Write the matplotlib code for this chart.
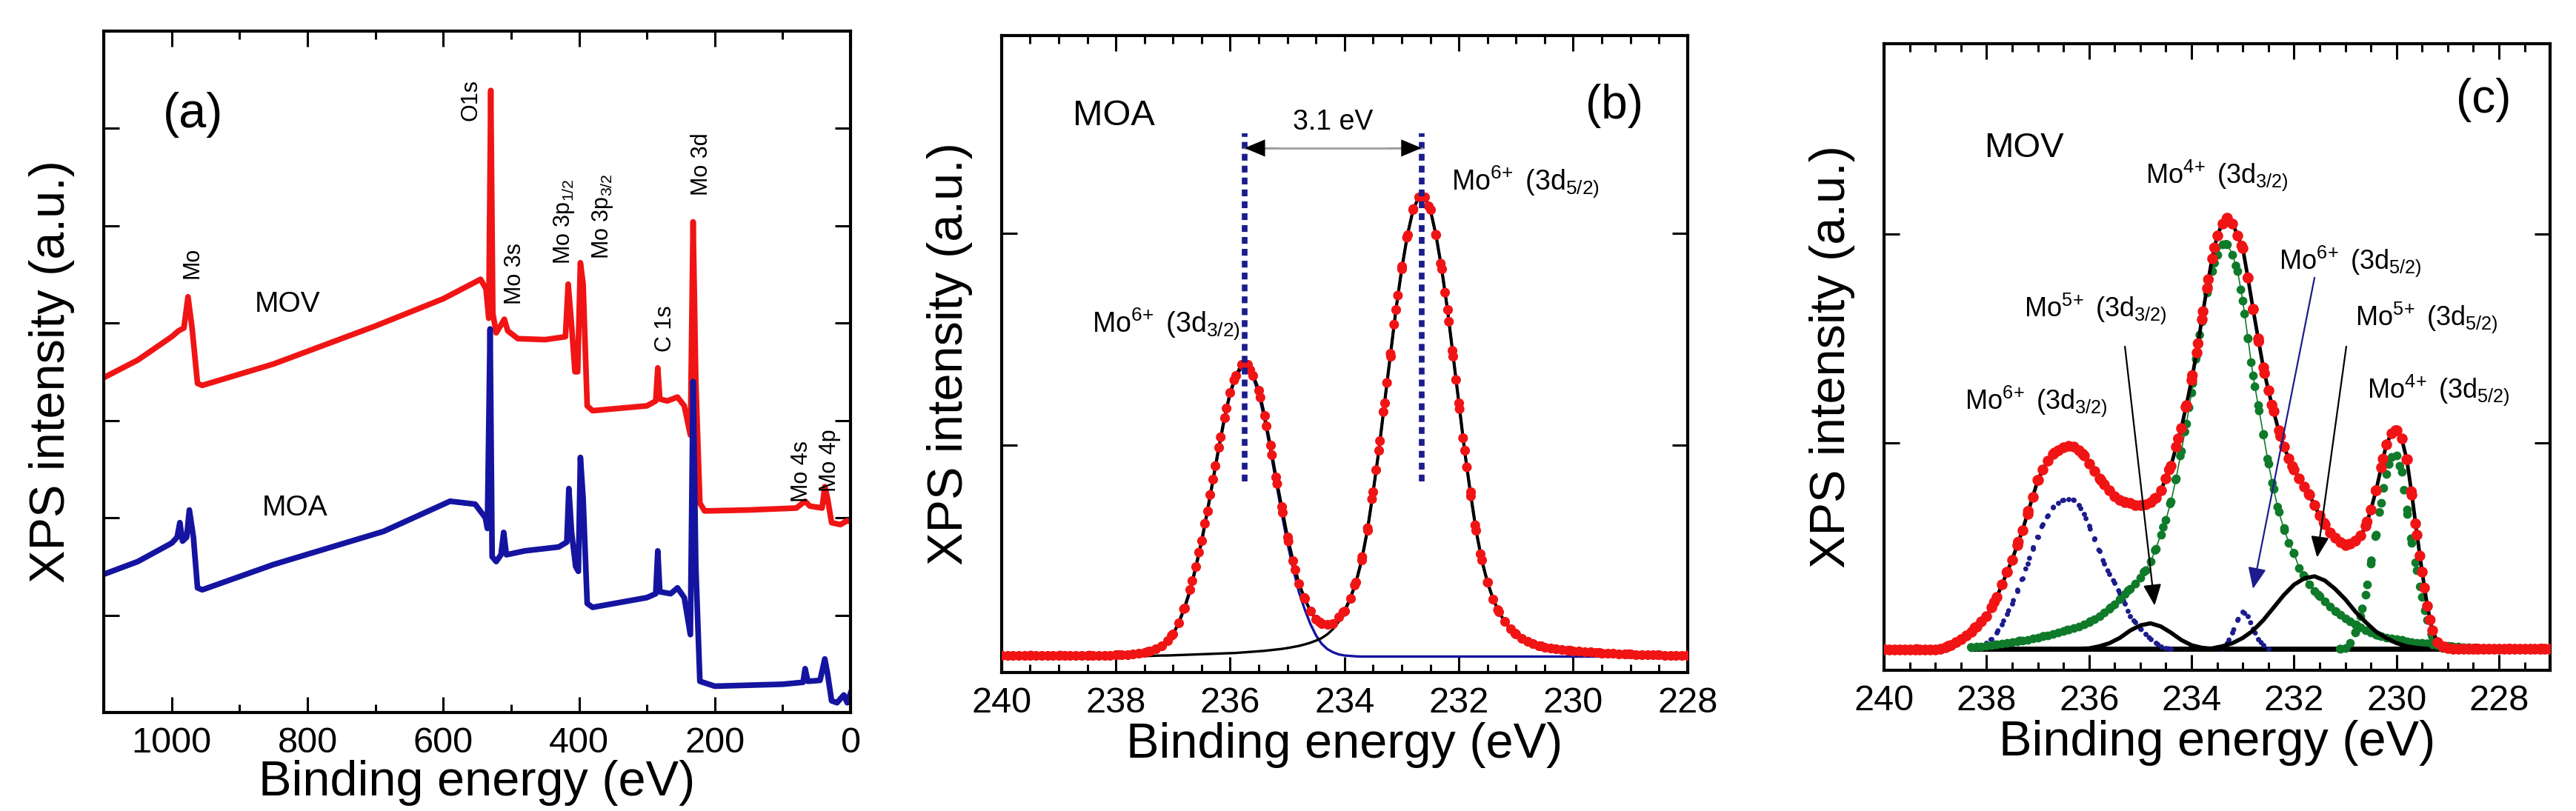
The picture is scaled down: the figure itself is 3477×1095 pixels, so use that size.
import numpy as np
import matplotlib
matplotlib.use("Agg")
import matplotlib.pyplot as plt
from matplotlib.ticker import MultipleLocator

plt.rcParams['font.family'] = ['Liberation Sans', 'DejaVu Sans']
plt.rcParams['mathtext.default'] = 'regular'

RED = '#f01414'
BLUE = '#1414a0'
NAVY = '#1c1c8c'
GREEN = '#0f7a2a'

# ---------------- (a) survey spectra (binding energy, offset intensity) ----------------
mov_survey_be = [1100, 1050, 1000, 990, 982, 976, 970, 962, 955, 850,
                 700, 600, 545, 537, 533, 530, 527, 522, 515, 510,
                 505, 490, 450, 420, 416, 411, 406, 402, 398, 394,
                 388, 380, 300, 287, 284, 281, 270, 255, 245, 236,
                 232, 228, 222, 215, 150, 80, 67, 60, 42, 38,
                 34, 28, 15, 5, 0]
mov_survey = [3.44, 3.62, 3.86, 3.92, 3.95, 4.27, 3.95, 3.38, 3.36, 3.58,
              3.97, 4.25, 4.45, 4.35, 4.05, 6.39, 4.10, 3.90, 3.98, 4.04,
              3.92, 3.84, 3.83, 3.86, 4.40, 3.98, 3.50, 3.50, 4.62, 4.40,
              3.15, 3.10, 3.15, 3.20, 3.54, 3.22, 3.20, 3.24, 3.15, 2.85,
              5.04, 3.40, 2.15, 2.07, 2.08, 2.10, 2.17, 2.12, 2.10, 2.32,
              2.20, 1.95, 1.93, 1.97, 1.96]
moa_survey_be = [1100, 1050, 1000, 992, 988, 984, 978, 974, 968, 962,
                 955, 850, 688, 590, 553, 538, 535, 531, 528, 522,
                 515, 511, 507, 480, 430, 418, 415, 411, 405, 401,
                 398, 394, 388, 380, 300, 287, 284, 281, 265, 255,
                 245, 236, 232, 228, 222, 200, 100, 70, 67, 63,
                 45, 38, 34, 28, 20, 10, 5, 0]
moa_survey = [1.42, 1.55, 1.74, 1.80, 1.95, 1.76, 1.80, 2.08, 1.80, 1.28,
              1.26, 1.52, 1.86, 2.17, 2.14, 2.00, 1.89, 3.94, 1.60, 1.55,
              1.62, 1.85, 1.62, 1.66, 1.70, 1.75, 2.30, 1.85, 1.50, 1.45,
              2.62, 2.20, 1.12, 1.08, 1.18, 1.22, 1.66, 1.24, 1.22, 1.28,
              1.18, 0.80, 3.40, 1.50, 0.32, 0.27, 0.29, 0.31, 0.45, 0.32,
              0.33, 0.55, 0.40, 0.12, 0.10, 0.18, 0.10, 0.20]
survey_labels = ['Mo', 'O1s', 'Mo 3s', r'Mo 3p$_{1/2}$', r'Mo 3p$_{3/2}$',
                 'C 1s', 'Mo 3d', 'Mo 4s', 'Mo 4p']
survey_label_be = [970, 559, 495, 422, 365, 273, 220, 72, 31]
survey_label_y = [4.62, 6.29, 4.51, 5.04, 5.10, 3.94, 5.63, 2.48, 2.59]

# ---------------- (b) MOA Mo 3d, 0.1 eV steps from 240.0 to 228.0 eV ----------------
be_b = np.round(np.arange(240.0, 227.95, -0.1), 1)
moa_data = [0.01, 0.01, 0.01, 0.01, 0.01, 0.01, 0.01, 0.01, 0.01, 0.01,      # 240.0-239.1
            0.01, 0.01, 0.01, 0.01, 0.01, 0.01, 0.01, 0.01, 0.01, 0.01,      # 239.0-238.1
            0.012, 0.013, 0.015, 0.018, 0.02, 0.024, 0.03, 0.04, 0.055, 0.08,  # 238.0-237.1
            0.11, 0.165, 0.235, 0.32, 0.43, 0.55, 0.69, 0.84, 0.99, 1.13,     # 237.0-236.1
            1.25, 1.33, 1.38, 1.38, 1.33, 1.26, 1.14, 1.00, 0.85, 0.71,       # 236.0-235.1
            0.57, 0.455, 0.35, 0.28, 0.22, 0.18, 0.16, 0.155, 0.16, 0.19,     # 235.0-234.1
            0.22, 0.28, 0.355, 0.46, 0.60, 0.78, 0.975, 1.20, 1.42, 1.64,     # 234.0-233.1
            1.83, 1.99, 2.11, 2.17, 2.17, 2.11, 1.99, 1.83, 1.64, 1.42,       # 233.0-232.1
            1.20, 0.975, 0.78, 0.60, 0.46, 0.355, 0.275, 0.215, 0.17, 0.135,  # 232.0-231.1
            0.11, 0.09, 0.075, 0.065, 0.057, 0.05, 0.045, 0.041, 0.038, 0.035,  # 231.0-230.1
            0.032, 0.03, 0.028, 0.026, 0.024, 0.022, 0.02, 0.019, 0.018, 0.017,  # 230.0-229.1
            0.016, 0.015, 0.014, 0.013, 0.012, 0.012, 0.011, 0.011, 0.01, 0.01,  # 229.0-228.1
            0.01]                                                              # 228.0
moa_mo6_32 = [0.005, 0.005, 0.005, 0.005, 0.005, 0.005, 0.005, 0.005, 0.005, 0.005,
              0.005, 0.005, 0.005, 0.005, 0.005, 0.005, 0.005, 0.005, 0.005, 0.005,
              0.005, 0.005, 0.007, 0.008, 0.01, 0.014, 0.02, 0.032, 0.05, 0.075,
              0.11, 0.16, 0.23, 0.31, 0.42, 0.54, 0.68, 0.83, 0.98, 1.12,
              1.24, 1.32, 1.365, 1.365, 1.32, 1.24, 1.12, 0.98, 0.83, 0.68,
              0.54, 0.42, 0.31, 0.23, 0.16, 0.105, 0.065, 0.04, 0.025, 0.015,
              0.01, 0.008, 0.006, 0.005, 0.005, 0.005, 0.005, 0.005, 0.005, 0.005,
              0.005, 0.005, 0.005, 0.005, 0.005, 0.005, 0.005, 0.005, 0.005, 0.005,
              0.005, 0.005, 0.005, 0.005, 0.005, 0.005, 0.005, 0.005, 0.005, 0.005,
              0.005, 0.005, 0.005, 0.005, 0.005, 0.005, 0.005, 0.005, 0.005, 0.005,
              0.005, 0.005, 0.005, 0.005, 0.005, 0.005, 0.005, 0.005, 0.005, 0.005,
              0.005, 0.005, 0.005, 0.005, 0.005, 0.005, 0.005, 0.005, 0.005, 0.005,
              0.005]
moa_mo6_52 = [0.005, 0.005, 0.005, 0.005, 0.005, 0.005, 0.005, 0.005, 0.005, 0.005,
              0.005, 0.005, 0.005, 0.005, 0.005, 0.005, 0.005, 0.005, 0.005, 0.005,
              0.005, 0.005, 0.006, 0.006, 0.007, 0.008, 0.008, 0.009, 0.01, 0.01,
              0.011, 0.012, 0.013, 0.014, 0.015, 0.016, 0.017, 0.018, 0.019, 0.02,
              0.021, 0.022, 0.024, 0.026, 0.028, 0.03, 0.032, 0.035, 0.038, 0.041,
              0.045, 0.05, 0.055, 0.062, 0.07, 0.08, 0.092, 0.11, 0.135, 0.17,
              0.215, 0.275, 0.35, 0.46, 0.60, 0.78, 0.975, 1.20, 1.42, 1.64,
              1.83, 1.99, 2.11, 2.17, 2.17, 2.11, 1.99, 1.83, 1.64, 1.42,
              1.20, 0.975, 0.78, 0.60, 0.46, 0.355, 0.275, 0.215, 0.17, 0.135,
              0.11, 0.09, 0.075, 0.065, 0.057, 0.05, 0.045, 0.041, 0.038, 0.035,
              0.032, 0.03, 0.028, 0.026, 0.024, 0.022, 0.02, 0.019, 0.018, 0.017,
              0.016, 0.015, 0.014, 0.013, 0.012, 0.012, 0.011, 0.011, 0.01, 0.01,
              0.01]
moa_peak_be = [235.75, 232.65]
moa_split = '3.1 eV'

# ---------------- (c) MOV Mo 3d, 0.1 eV steps from 240.0 to 227.0 eV ----------------
be_c = np.round(np.arange(240.0, 226.95, -0.1), 1)
mov_data = [0.01, 0.01, 0.01, 0.01, 0.01, 0.01, 0.01, 0.01, 0.01, 0.01,         # 240.0-239.1
            0.01, 0.012, 0.02, 0.03, 0.045, 0.06, 0.075, 0.095, 0.12, 0.145,    # 239.0-238.1
            0.17, 0.21, 0.26, 0.32, 0.38, 0.44, 0.51, 0.58, 0.66, 0.74,         # 238.0-237.1
            0.82, 0.87, 0.915, 0.945, 0.965, 0.978, 0.983, 0.98, 0.965, 0.94,   # 237.0-236.1
            0.90, 0.865, 0.83, 0.80, 0.77, 0.745, 0.725, 0.715, 0.71, 0.70,     # 236.0-235.1
            0.70, 0.705, 0.715, 0.735, 0.77, 0.83, 0.89, 0.98, 1.07, 1.18,      # 235.0-234.1
            1.30, 1.43, 1.59, 1.74, 1.88, 1.99, 2.05, 2.075, 2.05, 1.99,        # 234.0-233.1
            1.93, 1.79, 1.64, 1.50, 1.36, 1.25, 1.15, 1.06, 0.98, 0.925,        # 233.0-232.1
            0.87, 0.83, 0.79, 0.75, 0.70, 0.65, 0.61, 0.57, 0.545, 0.525,       # 232.0-231.1
            0.51, 0.515, 0.53, 0.555, 0.60, 0.68, 0.77, 0.88, 0.99, 1.045,      # 231.0-230.1
            1.06, 1.02, 0.92, 0.75, 0.56, 0.38, 0.22, 0.10, 0.045, 0.025,       # 230.0-229.1
            0.018, 0.014, 0.012, 0.012, 0.012, 0.012, 0.012, 0.012, 0.012, 0.012,  # 229.0-228.1
            0.012, 0.012, 0.012, 0.012, 0.012, 0.012, 0.012, 0.012, 0.012, 0.012,  # 228.0-227.1
            0.012]                                                               # 227.0

mo6_32_be = np.round(np.arange(238.3, 234.35, -0.1), 1)
mo6_32 = [0.012, 0.015, 0.02,
          0.04, 0.06, 0.09, 0.13, 0.18, 0.23, 0.29, 0.35, 0.42, 0.49,
          0.55, 0.61, 0.65, 0.69, 0.71, 0.725, 0.73, 0.725, 0.70, 0.66,
          0.60, 0.54, 0.48, 0.42, 0.37, 0.33, 0.28, 0.23, 0.17, 0.14,
          0.11, 0.085, 0.06, 0.04, 0.025, 0.015, 0.012]
mo6_52_be = np.round(np.arange(233.4, 232.45, -0.1), 1)
mo6_52 = [0.012, 0.04, 0.09, 0.15, 0.19, 0.17, 0.11, 0.06, 0.03, 0.012]

mo4_32_be = np.round(np.arange(238.3, 227.95, -0.1), 1)
mo4_32 = [0.02, 0.022, 0.025,
          0.028, 0.03, 0.033, 0.037, 0.04, 0.045, 0.05, 0.053, 0.057, 0.062,
          0.067, 0.072, 0.078, 0.084, 0.09, 0.097, 0.105, 0.113, 0.12, 0.13,
          0.14, 0.155, 0.17, 0.185, 0.205, 0.225, 0.25, 0.275, 0.30, 0.325,
          0.355, 0.39, 0.43, 0.49, 0.56, 0.63, 0.72, 0.83, 0.96, 1.09,
          1.24, 1.42, 1.58, 1.72, 1.82, 1.90, 1.95, 1.95, 1.90, 1.82,
          1.68, 1.50, 1.32, 1.18, 1.04, 0.90, 0.78, 0.67, 0.59, 0.52,
          0.47, 0.40, 0.36, 0.32, 0.29, 0.265, 0.24, 0.215, 0.195, 0.175,
          0.16, 0.145, 0.13, 0.115, 0.10, 0.09, 0.08, 0.072, 0.066, 0.062,
          0.058, 0.054, 0.05, 0.046, 0.043, 0.04, 0.037, 0.034, 0.031, 0.028,
          0.026, 0.024, 0.022, 0.02, 0.019, 0.018, 0.017, 0.016, 0.015, 0.014,
          0.014]
mo4_52_be = np.round(np.arange(231.1, 229.05, -0.1), 1)
mo4_52 = [0.012, 0.015, 0.04, 0.09, 0.17, 0.27, 0.42, 0.56, 0.71, 0.85, 0.93,
          0.94, 0.86, 0.68, 0.52, 0.39, 0.26, 0.15, 0.07, 0.03, 0.015]

mo5_32_be = [236.4, 236.0, 235.8, 235.6, 235.4, 235.2, 235.0, 234.8, 234.6, 234.4,
             234.2, 234.0, 233.8, 233.6, 233.2]
mo5_32 = [0.012, 0.015, 0.025, 0.04, 0.065, 0.10, 0.125, 0.135, 0.12, 0.09,
          0.055, 0.03, 0.018, 0.013, 0.012]
mo5_52_be = [233.8, 233.6, 233.4, 233.2, 233.0, 232.8, 232.6, 232.4, 232.2, 232.0,
             231.8, 231.6, 231.4, 231.2, 231.0, 230.8, 230.6, 230.4, 230.2, 230.0,
             229.8, 229.6, 229.4]
mo5_52 = [0.012, 0.015, 0.025, 0.04, 0.065, 0.10, 0.15, 0.21, 0.27, 0.32,
          0.35, 0.36, 0.34, 0.30, 0.25, 0.19, 0.14, 0.095, 0.065, 0.04,
          0.025, 0.017, 0.013]
baseline_c_be = [238.3, 229.0]
baseline_c = [0.012, 0.012]


def style(ax, xmaj, xmin, yticks):
    ax.xaxis.set_major_locator(MultipleLocator(xmaj))
    ax.xaxis.set_minor_locator(MultipleLocator(xmin))
    ax.set_yticks(yticks)
    ax.set_yticklabels([])
    ax.tick_params(which='both', direction='in', top=True, right=True, width=2.2)
    ax.tick_params(which='major', length=15, labelsize=35, pad=14)
    ax.tick_params(which='minor', length=8)
    for s in ax.spines.values():
        s.set_linewidth(3)
    ax.set_xlabel('Binding energy (eV)', fontsize=48, labelpad=2)
    ax.set_ylabel('XPS intensity (a.u.)', fontsize=48, labelpad=14)


def dots(ax, x, y, color, size, gap, z):
    # measured points as markers plus a round-dotted trace, like the scanned symbols
    ax.plot(x, y, 'o', ms=size, color=color, mec='none', zorder=z)
    ax.plot(x, y, color=color, lw=size, ls=(0, (0.001, gap)),
            dash_capstyle='round', zorder=z)


def mo(ox, orb):
    return r'Mo$^{%s\!+}$ (3d$_{%s)}$' % (ox, orb)


fig = plt.figure(figsize=(34.77, 10.95), dpi=100)

# (a)
ax = fig.add_axes([0.0403, 0.1215, 0.2899, 0.8402])
ax.plot(mov_survey_be, mov_survey, color=RED, lw=5.5)
ax.plot(moa_survey_be, moa_survey, color=BLUE, lw=5.5)
ax.set_xlim(1100, 0)
ax.set_ylim(0, 7)
style(ax, 200, 100, [1, 2, 3, 4, 5, 6])
ax.xaxis.labelpad = 0
for s, x, y in zip(survey_labels, survey_label_be, survey_label_y):
    ax.text(x, y, s, rotation=90, ha='center', va='center', fontsize=22)
ax.text(829, 4.19, 'MOV', ha='center', va='center', fontsize=28)
ax.text(818, 2.10, 'MOA', ha='center', va='center', fontsize=28)
ax.text(969, 6.14, '(a)', ha='center', va='center', fontsize=48)

# (b)
ax = fig.add_axes([0.3888, 0.1708, 0.2663, 0.7854])
ax.plot(be_b, moa_mo6_32, color=BLUE, lw=2.4, zorder=2)
ax.plot(be_b, moa_mo6_52, color='black', lw=2.4, zorder=2)
ax.plot(be_b, moa_data, color='black', lw=3, zorder=3)
dots(ax, be_b, moa_data, RED, 9.5, 3.0, 4)
for x in moa_peak_be:
    ax.plot([x, x], [0.83, 2.47], color=NAVY, lw=5.5, ls=(0, (1.2, 0.9)), zorder=5)
ax.plot(moa_peak_be, [2.40, 2.40], color='#a0a0a0', lw=2, zorder=5)
for x0, x1 in [(235.15, moa_peak_be[0]), (233.25, moa_peak_be[1])]:
    ax.annotate('', xy=(x1, 2.40), xytext=(x0, 2.40),
                arrowprops=dict(arrowstyle='-|>,head_length=0.6,head_width=0.25',
                                color='black', lw=0.1, mutation_scale=33,
                                shrinkA=0, shrinkB=0), zorder=6)
ax.text(np.mean(moa_peak_be), 2.52, moa_split, ha='center', va='center', fontsize=27)
ax.text(238.75, 2.55, 'MOA', ha='left', va='center', fontsize=35)
ax.text(229.28, 2.60, '(b)', ha='center', va='center', fontsize=46)
ax.text(232.13, 2.24, mo(6, '5/2'), ha='left', va='center', fontsize=27)
ax.text(238.42, 1.57, mo(6, '3/2'), ha='left', va='center', fontsize=27)
ax.set_xlim(240, 228)
ax.set_ylim(-0.07, 2.93)
style(ax, 2, 0.5, [1, 2])

# (c)
ax = fig.add_axes([0.7314, 0.1735, 0.2586, 0.7726])
ax.plot(baseline_c_be, baseline_c, color='black', lw=5, zorder=2)
dots(ax, mo6_32_be, mo6_32, NAVY, 5, 2.2, 2)
dots(ax, mo6_52_be, mo6_52, NAVY, 5, 2.2, 2)
ax.plot(mo4_32_be, mo4_32, color=GREEN, lw=1.2, zorder=2)
dots(ax, mo4_32_be, mo4_32, GREEN, 8.5, 2.8, 3)
dots(ax, mo4_52_be, mo4_52, GREEN, 8.5, 2.8, 3)
ax.plot(mo5_32_be, mo5_32, color='black', lw=4, zorder=3)
ax.plot(mo5_52_be, mo5_52, color='black', lw=4, zorder=3)
ax.plot(be_c, mov_data, color='black', lw=3.5, zorder=4)
dots(ax, be_c, mov_data, RED, 10.5, 3.0, 5)
for (x0, y0), (x1, y1), col in [((235.3, 1.46), (234.72, 0.22), 'black'),
                                ((231.6, 1.79), (232.8, 0.30), NAVY),
                                ((230.98, 1.46), (231.55, 0.45), 'black')]:
    ax.annotate('', xy=(x1, y1), xytext=(x0, y0),
                arrowprops=dict(arrowstyle='-|>,head_length=0.7,head_width=0.3',
                                color=col, lw=1.6, mutation_scale=25,
                                shrinkA=0, shrinkB=0), zorder=6)
ax.text(237.27, 2.41, 'MOV', ha='center', va='center', fontsize=34)
ax.text(228.3, 2.64, '(c)', ha='center', va='center', fontsize=46)
ax.text(234.9, 2.28, mo(4, '3/2'), ha='left', va='center', fontsize=26)
ax.text(232.3, 1.87, mo(6, '5/2'), ha='left', va='center', fontsize=26)
ax.text(237.27, 1.64, mo(5, '3/2'), ha='left', va='center', fontsize=26)
ax.text(230.8, 1.60, mo(5, '5/2'), ha='left', va='center', fontsize=26)
ax.text(238.43, 1.20, mo(6, '3/2'), ha='left', va='center', fontsize=26)
ax.text(230.58, 1.25, mo(4, '5/2'), ha='left', va='center', fontsize=26)
ax.set_xlim(240, 227)
ax.set_ylim(-0.09, 2.91)
style(ax, 2, 0.5, [1, 2])

fig.savefig('out.png', dpi=100)
